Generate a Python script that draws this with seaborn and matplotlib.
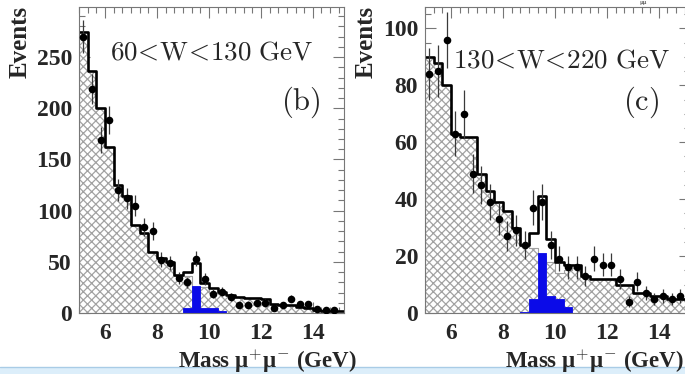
import numpy as np
import pandas as pd
import matplotlib
matplotlib.use("Agg")
import matplotlib.pyplot as plt
from matplotlib.patches import Rectangle
from matplotlib.lines import Line2D
from matplotlib.ticker import MultipleLocator
import seaborn as sns

# mass bins: 1/3 GeV wide starting at 5 GeV
bin_lo = 5.0
bin_w = 1 / 3
n_bins = 31
edges = bin_lo + bin_w * np.arange(n_bins + 1)
centers = edges[:-1] + bin_w / 2

# panel (b): 60 < W < 130 GeV
total_b = [275, 236, 200, 162, 125, 114, 86, 78, 60, 54, 50, 37, 40, 49, 29, 24,
           21, 18, 16, 15, 15, 14, 9, 8, 8, 6, 5, 3, 2, 2, 2]
bkg_b = [275, 236, 200, 162, 125, 114, 86, 78, 60, 54, 50, 37, 36, 24, 25, 20,
         19, 18, 16, 15, 15, 14, 9, 8, 8, 6, 5, 3, 2, 2, 2]
sig_b = [0, 0, 0, 0, 0, 0, 0, 0, 0, 0, 0, 0, 5, 26, 5, 5,
         2, 0, 0, 0, 0, 0, 0, 0, 0, 0, 0, 0, 0, 0, 0]
data_b = [270, 219, 169, 189, 120, 112, 105, 84, 80, 52, 49, 34, 30, 53, 33, 19,
          21, 16, 8, 8, 10, 10, 5, 8, 14, 9, 9, 4, 3, 3, np.nan]
err_b = [16.4, 14.8, 13.0, 13.7, 11.0, 10.6, 10.2, 9.2, 8.9, 7.2, 7.0, 5.8, 5.5, 7.3, 5.7, 4.4,
         4.6, 4.0, 2.8, 2.8, 3.2, 3.2, 2.2, 2.8, 3.7, 3.0, 3.0, 2.0, 1.7, 1.7, np.nan]

# panel (c): 130 < W < 220 GeV
total_c = [90, 88, 80, 63, 62, 62, 49, 43, 39, 36, 30, 24, 28, 41, 26, 18,
           17, 17, 13, 12, 12, 12, 10, 10, 7, 7, 6, 6, 5, 5, 5]
bkg_c = [90, 88, 80, 63, 62, 62, 49, 43, 39, 36, 30, 24, 23, 20, 18, 14,
         15, 17, 13, 12, 12, 12, 10, 10, 7, 7, 6, 6, 5, 5, 5]
sig_c = [0, 0, 0, 0, 0, 0, 0, 0, 0, 0, 0, 0.5, 5, 21, 6, 5,
         2, 0, 0, 0, 0, 0, 0, 0, 0, 0, 0, 0, 0, 0, 0]
data_c = [84, 85, 96, 63, 70, 49, 45, 39, 33, 27, 29, 24, 37, 39, 24, 19,
          16, 16, 13, 19, 17, 17, 12, 4, 11, 7, 5, 6, 5, 6, np.nan]
err_c = [9.2, 9.2, 9.8, 7.9, 8.4, 7.0, 6.7, 6.2, 5.7, 5.2, 5.4, 4.9, 6.1, 6.2, 4.9, 4.4,
         4.0, 4.0, 3.6, 4.4, 4.1, 4.1, 3.5, 2.0, 3.3, 2.6, 2.2, 2.4, 2.2, 2.4, np.nan]

sns.set_style("ticks")
plt.rcParams["font.family"] = ["Liberation Serif", "DejaVu Serif"]
plt.rcParams["font.weight"] = "bold"
plt.rcParams["mathtext.fontset"] = "cm"
plt.rcParams["hatch.linewidth"] = 0.9

W, H = 685, 374
fig = plt.figure(figsize=(W / 100, H / 100), dpi=100)
fig.patch.set_facecolor("white")


def draw_panel(ax, total, bkg, sig, data, err, ymax, ymaj, ymin, text, tag, tpos, gpos):
    df = pd.DataFrame({"mass": centers, "total": total, "bkg": bkg, "sig": sig,
                       "data": data, "err": err})
    bins = list(edges)
    sns.histplot(data=df, x="mass", weights="bkg", bins=bins, element="step", fill=True,
                 facecolor="white", edgecolor="#a2a2a2", hatch="xxxx", linewidth=0.8,
                 alpha=1, ax=ax)
    sns.histplot(data=df, x="mass", weights="sig", bins=bins, element="step", fill=True,
                 facecolor="#0b0be8", edgecolor="#0b0be8", linewidth=0.6, alpha=1, ax=ax)
    sns.histplot(data=df, x="mass", weights="total", bins=bins, element="step", fill=False,
                 color="black", linewidth=1.9, ax=ax)
    ax.errorbar(df["mass"], df["data"], yerr=df["err"], fmt="none", ecolor="#3a3a3a",
                elinewidth=0.9, zorder=4)
    sns.scatterplot(data=df, x="mass", y="data", color="black", s=30, linewidth=0,
                    ax=ax, zorder=5)

    ax.set_xlim(5, 15.2)
    ax.set_ylim(0, ymax)
    ax.set_xlabel("")
    ax.set_ylabel("")
    ax.xaxis.set_major_locator(MultipleLocator(2))
    ax.xaxis.set_minor_locator(MultipleLocator(1 / 3))
    ax.yaxis.set_major_locator(MultipleLocator(ymaj))
    ax.yaxis.set_minor_locator(MultipleLocator(ymin))
    ax.tick_params(which="both", direction="in", top=True, right=True,
                   color="#777777", width=0.8, labelsize=17)
    ax.tick_params(which="major", length=8)
    ax.tick_params(which="minor", length=4)
    ax.tick_params(axis="x", pad=7)
    ax.tick_params(axis="y", pad=5)
    for s in ax.spines.values():
        s.set_color("#777777")
        s.set_linewidth(0.8)
        s.set_visible(True)

    ax.text(tpos[0], tpos[1], text, transform=ax.transAxes, ha="left",
            va="center", fontsize=19.5)
    ax.text(gpos[0], gpos[1], tag, transform=ax.transAxes, ha="center",
            va="center", fontsize=22)


ax_h = 306 / H
ax_b = (H - 313) / H
ax_w = 265 / W

ax1 = fig.add_axes([79 / W, ax_b, ax_w, ax_h])
draw_panel(ax1, total_b, bkg_b, sig_b, data_b, err_b, 299, 50, 10,
           r"$\mathrm{60\!<\!W\!<\!130\ GeV}$", r"$\mathrm{(b)}$",
           (0.117, 0.85), (0.838, 0.69))

ax2 = fig.add_axes([425 / W, ax_b, ax_w, ax_h])
draw_panel(ax2, total_c, bkg_c, sig_c, data_c, err_c, 107.5, 20, 5,
           r"$\mathrm{130\!<\!W\!<\!220\ GeV}$", r"$\mathrm{(c)}$",
           (0.106, 0.824), (0.815, 0.69))

# axis titles
for xc in (20, 366):
    fig.text(xc / W, 1 - 6 / H, "Events", rotation=90, ha="center", va="top",
             fontsize=18)
for xr in (357, 684):
    fig.text(xr / W, 1 - 347 / H, r"Mass μ$^{+}$μ$^{-}$ (GeV)", ha="right",
             va="top", fontsize=16.5, zorder=12)

fig.text(643 / W, 1.0, "μμ", ha="center", va="top", fontsize=5,
         fontweight="normal", color="#333333")

# light strip at the bottom edge of the scan
fig.add_artist(Rectangle((0, 0), 1, 7 / H, transform=fig.transFigure,
                         facecolor="#dceefa", edgecolor="none", zorder=10))
fig.add_artist(Line2D([0, 1], [7 / H, 7 / H], transform=fig.transFigure,
                      color="#a9cce6", linewidth=1, zorder=11))

fig.savefig("out.png", dpi=100)
